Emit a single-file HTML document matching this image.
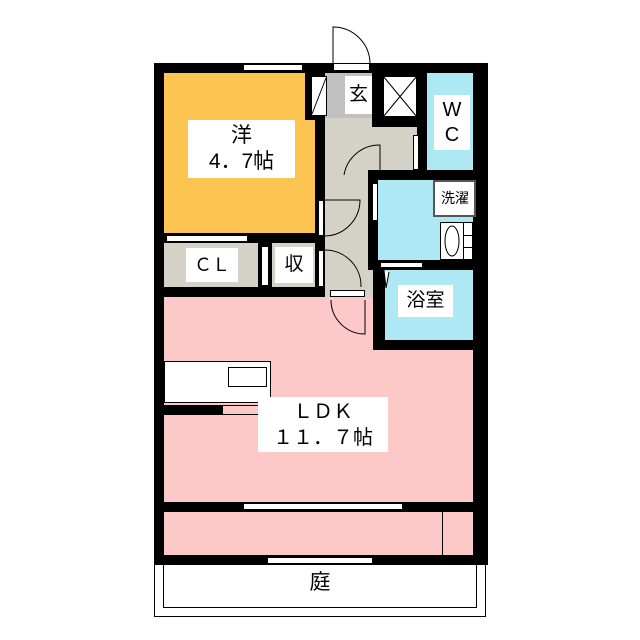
<!DOCTYPE html>
<html><head><meta charset="utf-8"><style>
body{margin:0;width:640px;height:640px;background:#fff;position:relative;overflow:hidden;font-family:"Liberation Sans","Noto Sans CJK JP",sans-serif}
div{position:absolute;box-sizing:border-box}
.k{background:#000}.w{background:#fff}
.t{background:#fff;color:#000;text-align:center;line-height:1.25}
</style></head><body>
<!-- yard -->
<div style="left:154px;top:560px;width:332px;height:57px;border:1px solid #000"></div>
<div style="left:163px;top:560px;width:314px;height:48px;border:1px solid #000"></div>
<div class="t" style="left:300px;top:570px;width:40px;height:26px;font-size:21px">庭</div>
<!-- fills -->
<div style="left:164px;top:73px;width:151px;height:162px;background:#fcc552"></div>
<div style="left:164px;top:297px;width:313px;height:210px;background:#fcc8c8"></div>
<div style="left:164px;top:512px;width:313px;height:43px;background:#fcc8c8"></div>
<div style="left:442px;top:512px;width:1px;height:43px;background:#000"></div>
<div style="left:325px;top:117px;width:92px;height:180px;background:#d4d2c6"></div>
<div style="left:164px;top:243px;width:151px;height:45px;background:#d4d2c6"></div>
<div style="left:325px;top:73px;width:47px;height:45px;background:#c0c0c0"></div>
<div style="left:427px;top:73px;width:46px;height:100px;background:#aee8f5"></div>
<div style="left:378px;top:180px;width:95px;height:80px;background:#aee8f5"></div>
<div style="left:385px;top:270px;width:92px;height:70px;background:#aee8f5"></div>
<!-- walls -->
<div class="k" style="left:154px;top:63px;width:334px;height:10px"></div>
<div class="k" style="left:154px;top:63px;width:10px;height:502px"></div>
<div class="k" style="left:473px;top:63px;width:15px;height:502px"></div>
<div class="k" style="left:154px;top:502px;width:334px;height:10px"></div>
<div class="k" style="left:154px;top:555px;width:334px;height:10px"></div>
<div class="k" style="left:154px;top:287px;width:171px;height:10px"></div>
<div class="k" style="left:164px;top:233px;width:161px;height:10px"></div>
<div class="k" style="left:315px;top:73px;width:10px;height:224px"></div>
<div class="k" style="left:305px;top:73px;width:20px;height:47px"></div>
<div class="k" style="left:372px;top:73px;width:55px;height:54px"></div>
<div class="k" style="left:417px;top:73px;width:10px;height:100px"></div>
<div class="k" style="left:368px;top:170px;width:110px;height:10px"></div>
<div class="k" style="left:368px;top:170px;width:10px;height:100px"></div>
<div class="k" style="left:373px;top:260px;width:110px;height:10px"></div>
<div class="k" style="left:373px;top:260px;width:12px;height:90px"></div>
<div class="k" style="left:373px;top:340px;width:110px;height:10px"></div>
<div class="k" style="left:258px;top:243px;width:14px;height:45px"></div>
<div class="k" style="left:164px;top:405px;width:58px;height:10px"></div>
<!-- boxes -->
<div class="w" style="left:311px;top:76px;width:16px;height:40px;border:1px solid #000"></div>
<div class="w" style="left:383px;top:76px;width:34px;height:41px;border:1px solid #000"></div>
<div class="w" style="left:433px;top:180px;width:43px;height:37px;border:2px solid #555"></div>
<div class="w" style="left:440px;top:222px;width:33px;height:38px;border:1px solid #000"></div>
<div style="left:463px;top:222px;width:1px;height:38px;background:#000"></div>
<div style="left:463px;top:235px;width:10px;height:1px;background:#000"></div>
<div style="left:463px;top:247px;width:10px;height:1px;background:#000"></div>
<div class="w" style="left:164px;top:361px;width:107px;height:42px;border:1px solid #000"></div>
<div class="w" style="left:228px;top:367px;width:39px;height:20px;border:1px solid #000"></div>
<div class="w" style="left:222px;top:405px;width:49px;height:10px;border:1px solid #000;background:#fcc8c8"></div>
<svg style="position:absolute;left:0;top:0" width="640" height="640">
<line x1="312" y1="114" x2="326" y2="78" stroke="#000"/>
<line x1="383" y1="76" x2="417" y2="117" stroke="#000"/><line x1="417" y1="76" x2="383" y2="117" stroke="#000"/>
<path d="M333 63 V27 A37 37 0 0 1 370 63" fill="none" stroke="#000"/>
<path d="M380 170 V145 A36 36 0 0 0 344 175" fill="none" stroke="#000"/>
<path d="M325 200 H360 A36 36 0 0 1 325 236" fill="none" stroke="#000"/>
<path d="M325 250 A36 36 0 0 1 361 287" fill="none" stroke="#000"/>
<path d="M365 300 V334 A34 34 0 0 1 331 300" fill="none" stroke="#000"/>
<ellipse cx="452" cy="241" rx="7" ry="15" fill="#fff" stroke="#000"/>
<path d="M384 270 L386 288 L389 272" fill="#fff" stroke="#000"/>
</svg>
<div class="w" style="left:333px;top:63px;width:37px;height:8px;border:1px solid #000"></div>
<div class="w" style="left:243px;top:64px;width:60px;height:7px;border:1px solid #000"></div>
<div class="w" style="left:318px;top:200px;width:6px;height:36px;border:1px solid #000"></div>
<div class="w" style="left:318px;top:250px;width:6px;height:37px;border:1px solid #000"></div>
<div class="w" style="left:330px;top:290px;width:35px;height:7px;border:1px solid #000"></div>
<div class="w" style="left:413px;top:135px;width:6px;height:35px;border:1px solid #000"></div>
<div class="w" style="left:372px;top:183px;width:6px;height:38px;border:1px solid #000"></div>
<div class="w" style="left:380px;top:262px;width:43px;height:6px;border:1px solid #000"></div>
<div class="w" style="left:166px;top:235px;width:82px;height:7px;border:1px solid #000"></div>
<div class="w" style="left:261px;top:246px;width:8px;height:40px;border:1px solid #000"></div>
<div class="w" style="left:243px;top:503px;width:160px;height:7px;border:1px solid #000"></div>
<div class="w" style="left:267px;top:557px;width:106px;height:7px;border:1px solid #000"></div>
<!-- labels -->
<div class="t" style="left:188px;top:120px;width:107px;height:58px;font-size:21px;padding-top:3px">洋<br>4．7帖</div>
<div class="t" style="left:345px;top:76px;width:27px;height:38px;font-size:19px;line-height:38px">玄</div>
<div class="t" style="left:434px;top:95px;width:36px;height:55px;font-size:20px;line-height:25px;padding-top:3px">W<br>C</div>
<div class="t" style="left:437px;top:183px;width:36px;height:30px;font-size:14px;line-height:30px">洗濯</div>
<div class="t" style="left:186px;top:248px;width:52px;height:34px;font-size:18px;line-height:34px">ＣＬ</div>
<div class="t" style="left:275px;top:247px;width:38px;height:36px;font-size:19px;line-height:36px">収</div>
<div class="t" style="left:398px;top:285px;width:55px;height:32px;font-size:19px;line-height:32px">浴室</div>
<div class="t" style="left:258px;top:397px;width:130px;height:55px;font-size:20px;line-height:26px;padding-top:2px">ＬＤＫ<br>１１．７帖</div>
</body></html>
